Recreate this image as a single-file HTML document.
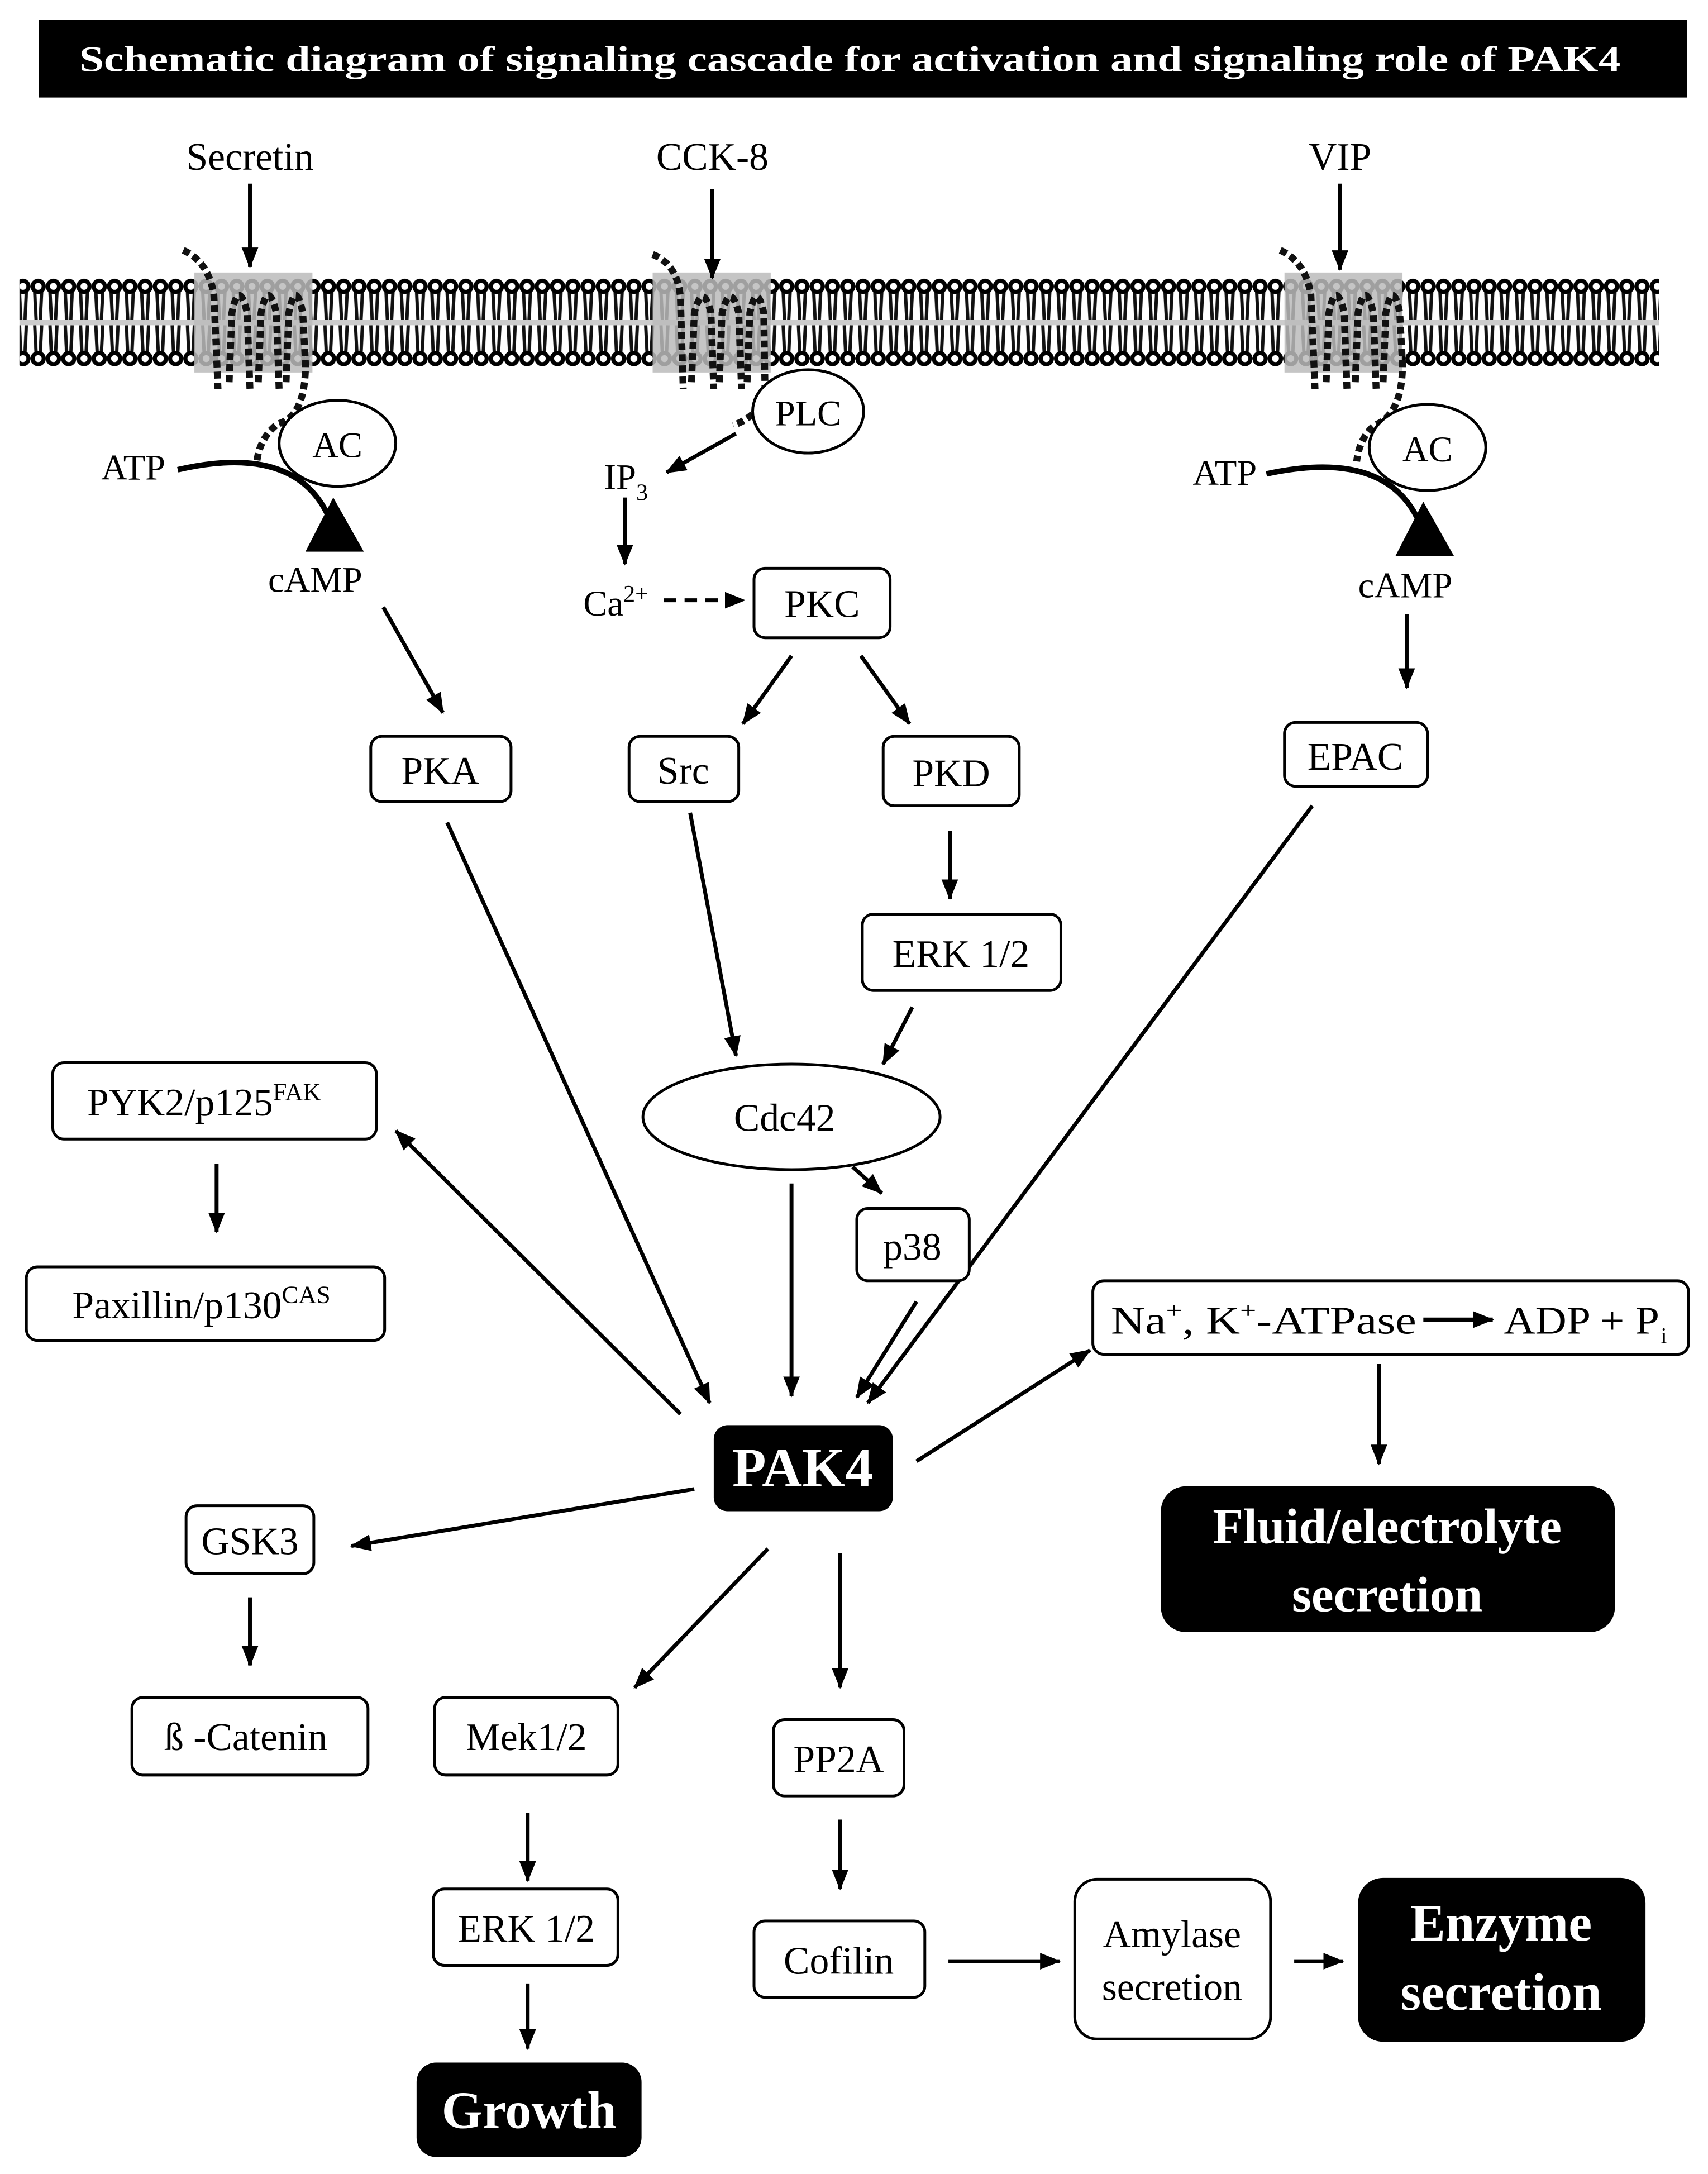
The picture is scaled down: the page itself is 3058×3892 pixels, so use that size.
<!DOCTYPE html>
<html><head><meta charset="utf-8"><style>
html,body{margin:0;padding:0;background:#fff;}
svg{display:block;}
text{font-family:"Liberation Serif",serif;fill:#000;}
</style></head><body>
<svg width="3058" height="3892" viewBox="0 0 1230 1565" xmlns="http://www.w3.org/2000/svg">
<defs>
<marker id="a" markerWidth="15" markerHeight="12" refX="14" refY="6" orient="auto" markerUnits="userSpaceOnUse"><path d="M0,0 L15,6 L0,12 z" fill="#000"/></marker>
<pattern id="mem" x="0" y="200" width="11" height="64" patternUnits="userSpaceOnUse">
<rect width="11" height="64" fill="#fff"/>
<path d="M3,10 L4,30 M8,10 L7,30 M3,34 L4,54 M8,34 L7,54" stroke="#111" stroke-width="2.4"/>
<rect x="0" y="30" width="11" height="4" fill="#ccc"/>
<circle cx="5.5" cy="6" r="4" fill="#fff" stroke="#000" stroke-width="3"/>
<circle cx="5.5" cy="58" r="4" fill="#fff" stroke="#000" stroke-width="3"/>
</pattern>
</defs>
<!-- title -->
<rect x="28" y="14" width="1187" height="56" fill="#000"/>
<text x="612" y="51" font-size="26" font-weight="bold" text-anchor="middle" style="fill:#fff" textLength="1110" lengthAdjust="spacingAndGlyphs">Schematic diagram of signaling cascade for activation and signaling role of PAK4</text>

<!-- membrane -->
<rect x="14" y="200" width="1181" height="64" fill="url(#mem)"/>
<rect x="140" y="196" width="85" height="72" fill="#bbb" opacity="0.85"/>
<rect x="470" y="196" width="85" height="72" fill="#bbb" opacity="0.85"/>
<rect x="925" y="196" width="85" height="72" fill="#bbb" opacity="0.85"/>
<g stroke="#111" stroke-width="5" stroke-dasharray="5,3" fill="none">
<path d="M132,180 Q150,188 154,212 L157,280"/>
<path d="M165,275 L167,225 Q172,200 178,225 L180,280 M186,275 L188,225 Q193,200 199,225 L201,280 M206,275 L208,225 Q213,200 218,225 L220,262 Q220,300 200,305 Q187,315 185,332"/>
<path d="M470,183 Q488,190 490,214 L492,280"/>
<path d="M498,275 L500,225 Q506,202 512,225 L514,280 M518,275 L520,225 Q526,202 532,225 L534,280 M538,275 L540,225 Q545,202 550,225 L551,285 Q545,300 528,306"/>
<path d="M922,180 Q940,188 944,212 L947,280"/>
<path d="M955,275 L957,225 Q962,200 968,225 L970,280 M976,275 L978,225 Q983,200 989,225 L991,280 M996,275 L998,225 Q1003,200 1008,225 L1010,262 Q1010,298 990,306 Q979,315 977,332"/>
</g>

<g font-size="28">
<text x="180" y="122" text-anchor="middle">Secretin</text>
<text x="513" y="122" text-anchor="middle">CCK-8</text>
<text x="965" y="122" text-anchor="middle">VIP</text>
</g>
<g stroke="#000" stroke-width="2.8" fill="none" marker-end="url(#a)">
<line x1="180" y1="132" x2="180" y2="192"/>
<line x1="513" y1="136" x2="513" y2="200"/>
<line x1="965" y1="132" x2="965" y2="194"/>
</g>

<!-- left AC -->
<ellipse cx="243" cy="319" rx="42" ry="31" fill="#fff" stroke="#000" stroke-width="2"/>
<text x="243" y="329" font-size="26" text-anchor="middle">AC</text>
<text x="96" y="345" font-size="26" text-anchor="middle">ATP</text>
<path d="M128,338 Q215,318 238,375" stroke="#000" stroke-width="4" fill="none"/>
<path d="M240,358 L262,397 L220,397 z" fill="#000"/>
<text x="227" y="426" font-size="26" text-anchor="middle">cAMP</text>

<!-- right AC -->
<ellipse cx="1028" cy="322" rx="42" ry="31" fill="#fff" stroke="#000" stroke-width="2"/>
<text x="1028" y="332" font-size="26" text-anchor="middle">AC</text>
<text x="882" y="349" font-size="26" text-anchor="middle">ATP</text>
<path d="M912,341 Q1000,322 1023,378" stroke="#000" stroke-width="4" fill="none"/>
<path d="M1025,361 L1047,400 L1005,400 z" fill="#000"/>
<text x="1012" y="430" font-size="26" text-anchor="middle">cAMP</text>

<!-- PLC -->
<ellipse cx="582" cy="296" rx="40" ry="30" fill="#fff" stroke="#000" stroke-width="2"/>
<text x="582" y="306" font-size="26" text-anchor="middle">PLC</text>
<text x="435" y="352" font-size="26">IP<tspan font-size="17" dy="8">3</tspan></text>
<text x="420" y="443" font-size="26">Ca<tspan font-size="17" dy="-10">2+</tspan></text>

<g stroke="#000" stroke-width="2.8" fill="none" marker-end="url(#a)">
<line x1="530" y1="312" x2="480" y2="340"/>
<line x1="450" y1="358" x2="450" y2="406"/>
<line x1="478" y1="432" x2="536" y2="432" stroke-dasharray="9,6"/>
<line x1="570" y1="472" x2="535" y2="521"/>
<line x1="620" y1="472" x2="655" y2="521"/>
<line x1="276" y1="437" x2="319" y2="513"/>
<line x1="1013" y1="442" x2="1013" y2="495"/>
<line x1="684" y1="598" x2="684" y2="647"/>
<line x1="497" y1="585" x2="530" y2="760"/>
<line x1="657" y1="725" x2="636" y2="766"/>
<line x1="322" y1="592" x2="511" y2="1010"/>
<line x1="945" y1="580" x2="625" y2="1010"/>
<line x1="570" y1="852" x2="570" y2="1005"/>
<line x1="614" y1="840" x2="635" y2="859"/>
<line x1="660" y1="937" x2="617" y2="1006"/>
<line x1="490" y1="1018" x2="285" y2="814"/>
<line x1="156" y1="838" x2="156" y2="887"/>
<line x1="993" y1="982" x2="993" y2="1054"/>
<line x1="500" y1="1072" x2="253" y2="1113"/>
<line x1="180" y1="1150" x2="180" y2="1199"/>
<line x1="553" y1="1115" x2="457" y2="1215"/>
<line x1="380" y1="1305" x2="380" y2="1354"/>
<line x1="380" y1="1428" x2="380" y2="1475"/>
<line x1="605" y1="1118" x2="605" y2="1215"/>
<line x1="605" y1="1310" x2="605" y2="1360"/>
<line x1="683" y1="1412" x2="763" y2="1412"/>
<line x1="932" y1="1412" x2="967" y2="1412"/>
<line x1="660" y1="1052" x2="785" y2="972"/>
</g>

<!-- boxes -->
<g fill="#fff" stroke="#000" stroke-width="2">
<rect x="543" y="409" width="98" height="50" rx="8"/>
<rect x="267" y="530" width="101" height="47" rx="8"/>
<rect x="453" y="530" width="79" height="47" rx="8"/>
<rect x="636" y="530" width="98" height="50" rx="8"/>
<rect x="925" y="520" width="103" height="46" rx="8"/>
<rect x="621" y="658" width="143" height="55" rx="8"/>
<ellipse cx="570" cy="804" rx="107" ry="38"/>
<rect x="617" y="870" width="81" height="52" rx="8"/>
<rect x="38" y="765" width="233" height="55" rx="8"/>
<rect x="19" y="912" width="258" height="53" rx="8"/>
<rect x="787" y="922" width="429" height="53" rx="8"/>
<rect x="134" y="1084" width="92" height="49" rx="8"/>
<rect x="95" y="1222" width="170" height="56" rx="8"/>
<rect x="313" y="1222" width="132" height="56" rx="8"/>
<rect x="312" y="1360" width="133" height="55" rx="8"/>
<rect x="557" y="1238" width="94" height="55" rx="8"/>
<rect x="543" y="1383" width="123" height="55" rx="8"/>
<rect x="774" y="1353" width="141" height="115" rx="16"/>
</g>
<g fill="#000">
<rect x="514" y="1026" width="129" height="62" rx="10"/>
<rect x="836" y="1070" width="327" height="105" rx="18"/>
<rect x="300" y="1485" width="162" height="68" rx="14"/>
<rect x="978" y="1352" width="207" height="118" rx="18"/>
</g>

<g font-size="28" text-anchor="middle">
<text x="592" y="444">PKC</text>
<text x="317" y="564">PKA</text>
<text x="492" y="564">Src</text>
<text x="685" y="566">PKD</text>
<text x="976" y="554">EPAC</text>
<text x="692" y="696">ERK 1/2</text>
<text x="565" y="814">Cdc42</text>
<text x="657" y="907">p38</text>
<text x="147" y="803">PYK2/p125<tspan font-size="18" dy="-11">FAK</tspan></text>
<text x="145" y="949">Paxillin/p130<tspan font-size="18" dy="-11">CAS</tspan></text>
<text x="180" y="1119">GSK3</text>
<text x="177" y="1260">ß -Catenin</text>
<text x="379" y="1260">Mek1/2</text>
<text x="379" y="1398">ERK 1/2</text>
<text x="604" y="1276">PP2A</text>
<text x="604" y="1421">Cofilin</text>
<text x="844" y="1402">Amylase</text>
<text x="844" y="1440">secretion</text>
</g>
<text x="800" y="960" font-size="28" textLength="220" lengthAdjust="spacingAndGlyphs">Na<tspan font-size="17" dy="-11">+</tspan><tspan dy="11">, K</tspan><tspan font-size="17" dy="-11">+</tspan><tspan dy="11">-ATPase</tspan></text>
<line x1="1025" y1="950" x2="1075" y2="950" stroke="#000" stroke-width="3" marker-end="url(#a)"/>
<text x="1083" y="960" font-size="28" textLength="112" lengthAdjust="spacingAndGlyphs">ADP + P</text>
<text x="1196" y="967" font-size="16">i</text>

<g font-weight="bold" text-anchor="middle">
<text x="578" y="1070" font-size="40" style="fill:#fff">PAK4</text>
<text x="999" y="1111" font-size="36" style="fill:#fff">Fluid/electrolyte</text>
<text x="999" y="1160" font-size="36" style="fill:#fff">secretion</text>
<text x="381" y="1532" font-size="38" style="fill:#fff">Growth</text>
<text x="1081" y="1397" font-size="38" style="fill:#fff">Enzyme</text>
<text x="1081" y="1447" font-size="38" style="fill:#fff">secretion</text>
</g>
</svg>
</body></html>
